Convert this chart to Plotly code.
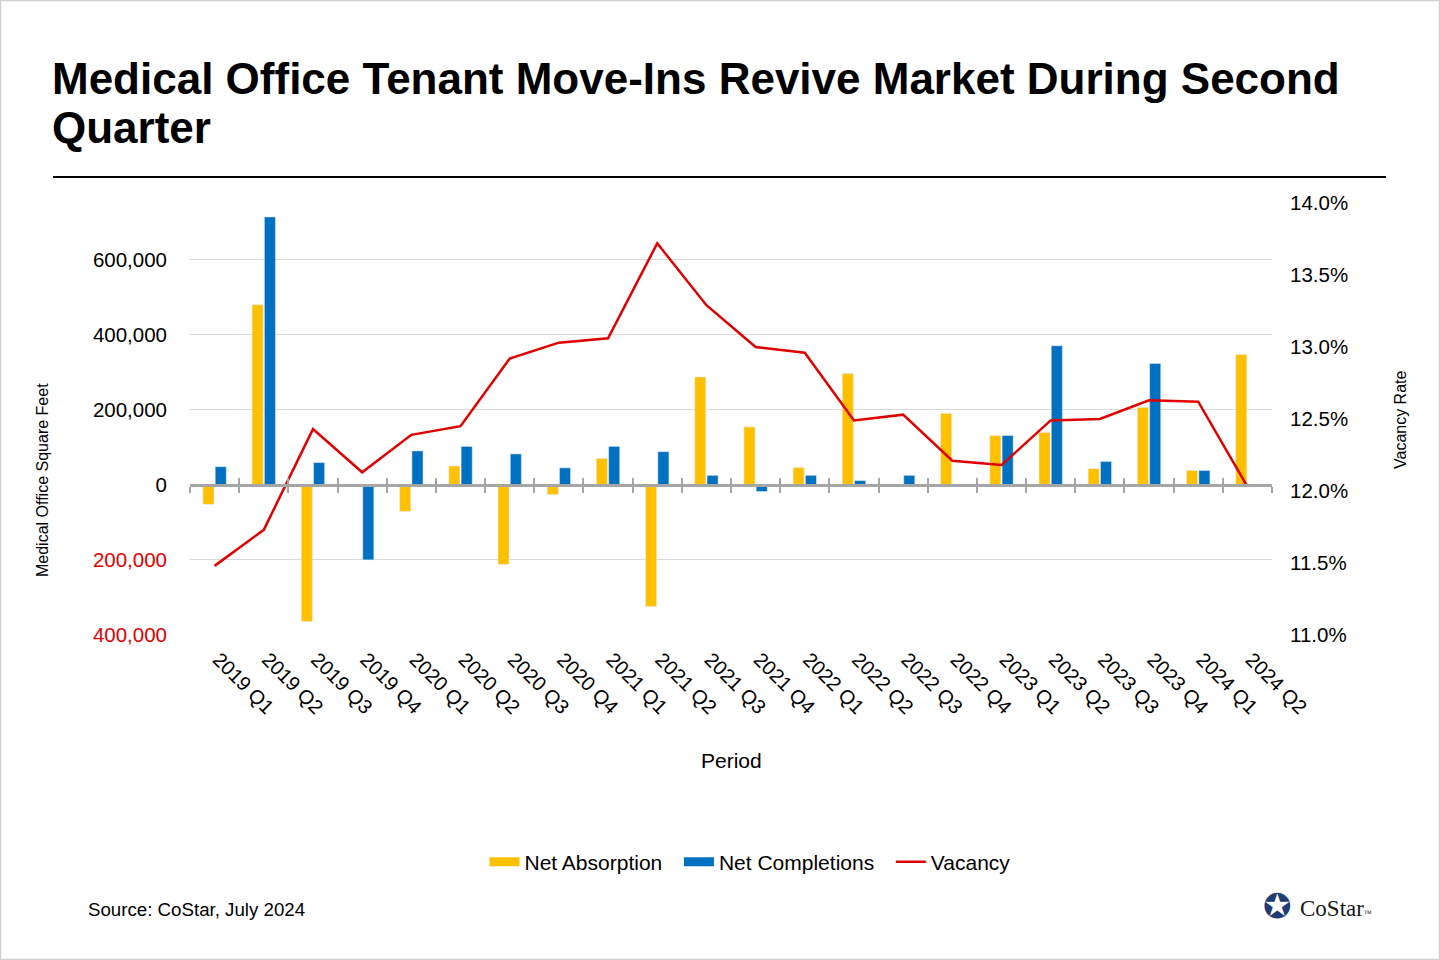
import plotly.graph_objects as go

# 데이터
periods = ['2019 Q1', '2019 Q2', '2019 Q3', '2019 Q4', '2020 Q1', '2020 Q2', '2020 Q3', '2020 Q4',
           '2021 Q1', '2021 Q2', '2021 Q3', '2021 Q4', '2022 Q1', '2022 Q2', '2022 Q3', '2022 Q4',
           '2023 Q1', '2023 Q2', '2023 Q3', '2023 Q4', '2024 Q1', '2024 Q2']
net_absorption = [-52000, 479000, -364000, 0, -71000, 50000, -212000, -26000, 70000, -324000, 287000,
                  154000, 46000, 296000, 0, 190000, 131000, 139000, 43000, 206000, 38000, 347000]
net_completions = [48000, 713000, 59000, -200000, 90000, 102000, 82000, 45000, 102000, 88000, 25000,
                   -18000, 25000, 11000, 25000, 0, 131000, 370000, 62000, 323000, 38000, -6000]
vacancy = [11.48, 11.73, 12.43, 12.13, 12.39, 12.45, 12.92, 13.03, 13.06, 13.72, 13.29, 13.00,
           12.96, 12.49, 12.53, 12.21, 12.18, 12.49, 12.50, 12.63, 12.62, 12.03]

left_ticks = [-400000, -200000, 0, 200000, 400000, 600000]
left_range = [-400000, 750000]

YELLOW = '#FFC000'
BLUE = '#0070C0'
RED = '#E00000'
FONT = 'Liberation Sans, Arial, sans-serif'
NB = '\u00a0'

W, H = 1440, 960
L, R, T, B = 190, 168, 203, 325
pw, ph = W - L - R, H - T - B


def px(x, y):
    # 픽셀 -> paper 좌표
    return (x - L) / pw, (H - B - y) / ph


def fmt(v):
    s = f'{abs(v):,}'
    return f"<span style='color:{RED}'>{s}</span>" if v < 0 else s


zero_pos = (0 - left_range[0]) / (left_range[1] - left_range[0])

fig = go.Figure()
fig.add_trace(go.Bar(x=periods, y=net_absorption, name='Net Absorption', marker_color=YELLOW,
                     legendgroup='a', showlegend=False))
fig.add_trace(go.Bar(x=periods, y=net_completions, name='Net Completions', marker_color=BLUE,
                     legendgroup='c', showlegend=False))
fig.add_trace(go.Scatter(x=periods, y=vacancy, name='Vacancy', mode='lines',
                         line=dict(color=RED, width=2.5), yaxis='y2', legendgroup='v',
                         showlegend=False))
# 범례 (넓은 사각형 모양)
for name, col, w, grp in [('Net Absorption' + NB * 2, YELLOW, 9, 'a'),
                          ('Net Completions' + NB * 2, BLUE, 9, 'c'),
                          ('Vacancy', RED, 2.5, 'v')]:
    fig.add_trace(go.Scatter(x=[None], y=[None], mode='lines', name=name, legendgroup=grp,
                             line=dict(color=col, width=w)))
# 0 선 위의 눈금용 보조 축
for ax in ['x2', 'x3']:
    fig.add_trace(go.Scatter(x=periods, y=[0] * len(periods), mode='none', xaxis=ax,
                             showlegend=False, hoverinfo='skip'))

axis2 = dict(type='category', overlaying='x', anchor='free', position=zero_pos,
             categoryorder='array', categoryarray=periods, range=[-0.5, len(periods) - 0.5],
             showline=True, linecolor='#A6A6A6', linewidth=3, tickson='boundaries',
             ticklen=6, tickwidth=2, tickcolor='#A6A6A6', showticklabels=False, showgrid=False)

fig.update_layout(
    width=W, height=H,
    margin=dict(l=L, r=R, t=T, b=B),
    paper_bgcolor='white', plot_bgcolor='white',
    font=dict(family=FONT, size=20, color='black'),
    barmode='group', bargap=0.5, bargroupgap=0.1,
    showlegend=True,
    legend=dict(orientation='h', x=px(750, 0)[0], xanchor='center', y=px(0, 862)[1],
                yanchor='middle', font=dict(size=21), itemwidth=30, traceorder='normal',
                tracegroupgap=0),
    xaxis=dict(type='category', categoryorder='array', categoryarray=periods,
               range=[-0.5, len(periods) - 0.5], tickangle=45, showline=False, ticks='',
               tickvals=periods, ticktext=[NB + p for p in periods],
               showgrid=False, tickfont=dict(size=20), ticklabelstandoff=4),
    xaxis2=dict(axis2, ticks='outside'),
    xaxis3=dict(axis2, ticks='inside'),
    yaxis=dict(range=left_range, tickvals=left_ticks, ticktext=[fmt(v) for v in left_ticks],
               showgrid=True, gridcolor='#D9D9D9', gridwidth=1, zeroline=False,
               showline=False, ticks='', ticklabelstandoff=22, tickfont=dict(size=20.5)),
    yaxis2=dict(range=[11, 14], dtick=0.5, tickformat='.1f', ticksuffix='%', overlaying='y',
                side='right', showgrid=False, zeroline=False, showline=False, ticks='',
                ticklabelstandoff=17, tickfont=dict(size=20.5)),
)

x0, y0 = px(0.5, 0.5)
x1, y1 = px(W - 0.5, H - 0.5)
fig.add_shape(type='rect', xref='paper', yref='paper', x0=x0, y0=y0, x1=x1, y1=y1,
              line=dict(color='#D0D0D0', width=1.5))
lx0, ly = px(53, 177)
lx1, _ = px(1386, 177)
fig.add_shape(type='line', xref='paper', yref='paper', x0=lx0, x1=lx1, y0=ly, y1=ly,
              line=dict(color='black', width=2))

notes = [
    (px(50, 78), '<b>Medical Office Tenant Move-Ins Revive Market During Second</b>', 44, 0, 'left',
     'black', FONT),
    (px(50, 128), '<b>Quarter</b>', 44, 0, 'left', 'black', FONT),
    (px(731, 760), 'Period', 21, 0, 'center', 'black', FONT),
    (px(42, 480), 'Medical Office Square Feet', 16, -90, 'center', 'black', FONT),
    (px(1400, 420), 'Vacancy Rate', 16, -90, 'center', 'black', FONT),
    (px(86, 909), 'Source: CoStar, July 2024', 18.7, 0, 'left', 'black', FONT),
    (px(1298, 908), "CoStar<span style='font-size:8px'>™</span>", 23, 0, 'left', '#1a1a1a',
     'Liberation Serif, serif'),
    (px(1277, 906), '✪', 34, 0, 'center', '#1F3C73', 'DejaVu Sans'),
]
for (xx, yy), txt, size, ang, anchor, col, fam in notes:
    fig.add_annotation(x=xx, y=yy, xref='paper', yref='paper', text=txt, showarrow=False,
                       textangle=ang, xanchor=anchor, yanchor='middle',
                       font=dict(size=size, color=col, family=fam))

fig.write_html('out.html', config={'displayModeBar': False},
               post_script="document.body.style.margin='0';")
